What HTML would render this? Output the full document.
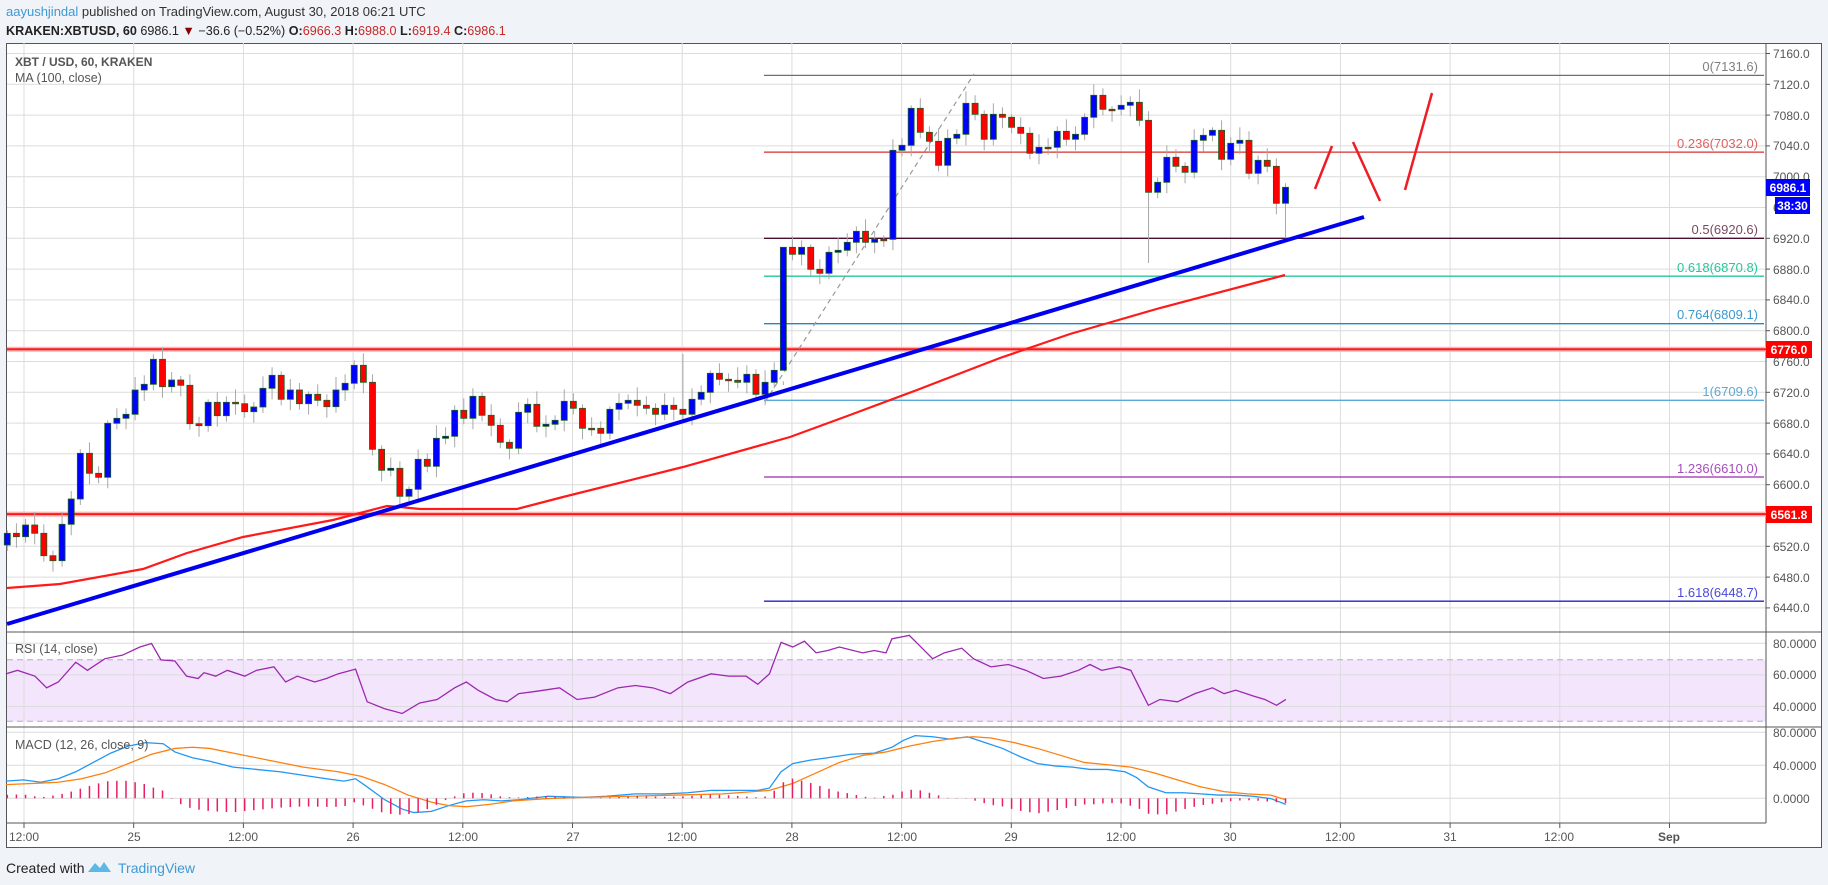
<!DOCTYPE html>
<html><head><meta charset="utf-8"><style>
html,body{margin:0;padding:0;background:#f0f3f7;}
body{width:1828px;height:885px;overflow:hidden;font-family:"Liberation Sans","DejaVu Sans",sans-serif;}
svg{position:absolute;left:0;top:0;}
</style></head><body>
<svg width="1828" height="885" xmlns="http://www.w3.org/2000/svg" font-family="Liberation Sans, DejaVu Sans, sans-serif">
<rect x="0" y="0" width="1828" height="885" fill="#f0f3f7"/>
<text x="6" y="16" font-size="13" fill="#333"><tspan fill="#3d9ad6">aayushjindal</tspan> published on TradingView.com, August 30, 2018 06:21 UTC</text>
<text x="6" y="35" font-size="12.6" fill="#222"><tspan font-weight="bold">KRAKEN:XBTUSD, 60</tspan> 6986.1 <tspan fill="#8b0000">▼</tspan> −36.6 (−0.52%) <tspan font-weight="bold">O:</tspan><tspan fill="#c62828">6966.3</tspan> <tspan font-weight="bold">H:</tspan><tspan fill="#c62828">6988.0</tspan> <tspan font-weight="bold">L:</tspan><tspan fill="#c62828">6919.4</tspan> <tspan font-weight="bold">C:</tspan><tspan fill="#c62828">6986.1</tspan></text>
<rect x="6.5" y="43.5" width="1815" height="804" fill="#fff" stroke="#555" stroke-width="1"/>
<rect x="7" y="659.7" width="1759" height="61.6" fill="#f3e5fc"/>
<g id="grid" stroke="#dcdcdc" stroke-width="1"></g>
<line x1="7" y1="659.7" x2="1766" y2="659.7" stroke="#b9a9c4" stroke-dasharray="6,4"/>
<line x1="7" y1="721.3" x2="1766" y2="721.3" stroke="#b9a9c4" stroke-dasharray="6,4"/>
<line x1="7" y1="632" x2="1822" y2="632" stroke="#555"/>
<line x1="7" y1="727" x2="1822" y2="727" stroke="#555"/>
<line x1="7" y1="823" x2="1766" y2="823" stroke="#555"/>
<line x1="1766" y1="43" x2="1766" y2="823" stroke="#555"/>
<line x1="7" y1="349.2" x2="1766" y2="349.2" stroke="#ffb3b3" stroke-width="5"/>
<line x1="7" y1="349.2" x2="1766" y2="349.2" stroke="#ff1a1a" stroke-width="2"/>
<line x1="7" y1="514.1" x2="1766" y2="514.1" stroke="#ffb3b3" stroke-width="5"/>
<line x1="7" y1="514.1" x2="1766" y2="514.1" stroke="#ff1a1a" stroke-width="2"/>
<g stroke-width="1.3">
<line x1="764" y1="75.4" x2="1764" y2="75.4" stroke="#707070"/>
<line x1="764" y1="152.1" x2="1764" y2="152.1" stroke="#d32f2f"/>
<line x1="764" y1="238.3" x2="1764" y2="238.3" stroke="#4a0e2e"/>
<line x1="764" y1="276.2" x2="1764" y2="276.2" stroke="#26c69a"/>
<line x1="764" y1="323.7" x2="1764" y2="323.7" stroke="#1e88c8"/>
<line x1="764" y1="400.3" x2="1764" y2="400.3" stroke="#5aa9d6"/>
<line x1="764" y1="477" x2="1764" y2="477" stroke="#9c27b0"/>
<line x1="764" y1="601.2" x2="1764" y2="601.2" stroke="#2020d0"/>
</g>
<g font-family="Liberation Sans, DejaVu Sans, sans-serif" font-size="13" text-anchor="end">
<text x="1758" y="71" fill="#808080">0(7131.6)</text>
<text x="1758" y="148" fill="#e06060">0.236(7032.0)</text>
<text x="1758" y="234" fill="#7a4a63">0.5(6920.6)</text>
<text x="1758" y="272" fill="#26c69a">0.618(6870.8)</text>
<text x="1758" y="319" fill="#3a98d0">0.764(6809.1)</text>
<text x="1758" y="396" fill="#5aa9d6">1(6709.6)</text>
<text x="1758" y="473" fill="#a64dbd">1.236(6610.0)</text>
<text x="1758" y="597" fill="#4a4ad8">1.618(6448.7)</text>
</g>
<line x1="765" y1="402" x2="974" y2="74" stroke="#999" stroke-width="1.2" stroke-dasharray="5,4"/>
<polyline fill="none" stroke="#ff1a1a" stroke-width="2.2" points="7,588 60,584 143,569 187,553 243,537 333,520 387,506 400,507 420,509 517,509 563,497 683,467 790,437 850,415 917,390 1000,358 1070,334 1160,308 1285,275"/>
<g id="candles"></g>
<line x1="7" y1="624" x2="1364" y2="217" stroke="#0000ee" stroke-width="4"/>
<g stroke="#ee1c25" stroke-width="2.5" fill="none">
<line x1="1315" y1="189" x2="1332" y2="146"/>
<line x1="1353" y1="142" x2="1380" y2="201"/>
<line x1="1405" y1="190" x2="1432" y2="93"/>
</g>
<g transform="scale(1.1658)" fill="none" stroke-width="1.1">
<polyline stroke="#9c27b0" points="5,578 15,575 30,580 40,590 50,585 65,568 75,575 90,565 105,562 120,555 130,552 138,566 150,567 160,580 170,582 175,577 185,580 195,575 210,580 220,575 235,572 245,585 255,580 270,585 280,582 290,578 305,574 315,602 330,608 345,612 360,603 375,600 390,590 400,585 410,592 425,600 435,602 445,595 460,593 480,590 495,600 510,598 530,590 545,588 560,590 575,595 590,585 610,578 625,580 640,580 650,587 660,578 670,551 680,555 690,550 700,560 710,558 720,555 740,560 750,558 760,560 765,548 780,545 790,555 800,565 810,560 825,556 835,565 850,572 865,570 880,575 895,582 910,580 925,575 935,570 945,575 960,572 970,575 985,605 995,600 1010,602 1025,595 1040,590 1050,595 1060,592 1075,597 1085,600 1095,605 1103,600"/>
<polyline id="mb" stroke="#2196f3" points="5,670 20,669 35,671 50,668 65,662 80,654 95,646 110,640 125,637 140,638 150,645 165,650 180,653 200,658 220,660 240,662 260,665 280,668 295,670 305,668 315,675 330,686 345,694 355,697 370,696 385,691 400,687 415,686 430,687 445,686 470,683 500,684 520,683 545,681 570,681 590,680 610,678 630,678 650,678 660,676 670,662 680,655 695,652 710,650 730,647 750,646 765,641 775,635 785,631 800,632 815,634 830,632 845,637 860,642 875,649 890,655 905,657 920,658 935,660 950,660 965,662 975,667 985,675 1000,680 1015,680 1030,681 1045,682 1060,682 1075,683 1090,685 1103,690"/>
<polyline id="ms" stroke="#ff7f0e" points="5,673 30,672 50,671 70,668 90,663 110,655 130,647 150,642 165,641 180,642 200,646 230,652 260,658 290,662 310,666 330,673 350,682 370,688 385,691 400,692 420,690 440,687 470,685 500,684 540,683 580,682 620,681 660,678 680,672 700,663 720,654 740,648 760,645 780,640 800,636 820,633 835,632 850,633 870,637 890,642 910,648 930,654 950,656 970,658 990,663 1010,669 1030,675 1050,679 1070,681 1090,682 1103,686"/>
</g>
<g id="hist"></g>
<g font-size="12" fill="#555">
<text x="1773" y="58">7160.0</text><text x="1773" y="89">7120.0</text><text x="1773" y="120">7080.0</text><text x="1773" y="150">7040.0</text><text x="1773" y="181">7000.0</text><text x="1773" y="212">6960.0</text><text x="1773" y="243">6920.0</text><text x="1773" y="274">6880.0</text><text x="1773" y="304">6840.0</text><text x="1773" y="335">6800.0</text><text x="1773" y="366">6760.0</text><text x="1773" y="397">6720.0</text><text x="1773" y="428">6680.0</text><text x="1773" y="458">6640.0</text><text x="1773" y="489">6600.0</text><text x="1773" y="520">6560.0</text><text x="1773" y="551">6520.0</text><text x="1773" y="582">6480.0</text><text x="1773" y="612">6440.0</text>
<text x="1773" y="648">80.0000</text><text x="1773" y="679">60.0000</text><text x="1773" y="711">40.0000</text>
<text x="1773" y="737">80.0000</text><text x="1773" y="770">40.0000</text><text x="1773" y="803">0.0000</text>
</g>
<g stroke="#555"><line x1="1766" y1="53.5" x2="1770" y2="53.5"/><line x1="1766" y1="84.3" x2="1770" y2="84.3"/><line x1="1766" y1="115.1" x2="1770" y2="115.1"/><line x1="1766" y1="145.9" x2="1770" y2="145.9"/><line x1="1766" y1="238.3" x2="1770" y2="238.3"/><line x1="1766" y1="269.1" x2="1770" y2="269.1"/><line x1="1766" y1="299.9" x2="1770" y2="299.9"/><line x1="1766" y1="330.7" x2="1770" y2="330.7"/><line x1="1766" y1="392.3" x2="1770" y2="392.3"/><line x1="1766" y1="423.1" x2="1770" y2="423.1"/><line x1="1766" y1="453.9" x2="1770" y2="453.9"/><line x1="1766" y1="484.7" x2="1770" y2="484.7"/><line x1="1766" y1="546.3" x2="1770" y2="546.3"/><line x1="1766" y1="577.1" x2="1770" y2="577.1"/><line x1="1766" y1="607.9" x2="1770" y2="607.9"/></g>
<rect x="1766" y="179" width="44" height="17" fill="#0000ff"/><text x="1788" y="192" font-size="12" font-weight="bold" fill="#fff" text-anchor="middle">6986.1</text>
<rect x="1775" y="197" width="35" height="17" fill="#0000ff"/><text x="1792.5" y="210" font-size="12" font-weight="bold" fill="#fff" text-anchor="middle">38:30</text>
<rect x="1766" y="341" width="46" height="17" fill="#ff0000"/><text x="1789" y="354" font-size="12" font-weight="bold" fill="#fff" text-anchor="middle">6776.0</text>
<rect x="1766" y="506" width="46" height="17" fill="#ff0000"/><text x="1789" y="519" font-size="12" font-weight="bold" fill="#fff" text-anchor="middle">6561.8</text>
<text x="15" y="66" font-size="12" font-weight="bold" fill="#555">XBT / USD, 60, KRAKEN</text>
<text x="15" y="82" font-size="12.5" fill="#555">MA (100, close)</text>
<text x="15" y="653" font-size="12.5" fill="#555">RSI (14, close)</text>
<text x="15" y="749" font-size="12.5" fill="#555">MACD (12, 26, close, 9)</text>
<g font-size="12" fill="#555" text-anchor="middle">
<text x="24" y="841">12:00</text><text x="134" y="841">25</text><text x="243" y="841">12:00</text><text x="353" y="841">26</text><text x="463" y="841">12:00</text><text x="573" y="841">27</text><text x="682" y="841">12:00</text><text x="792" y="841">28</text><text x="902" y="841">12:00</text><text x="1011" y="841">29</text><text x="1121" y="841">12:00</text><text x="1230" y="841">30</text><text x="1340" y="841">12:00</text><text x="1450" y="841">31</text><text x="1559" y="841">12:00</text><text x="1669" y="841" font-weight="bold">Sep</text>
</g>
<text x="6" y="873" font-size="14" fill="#222">Created with</text>
<path d="M88 872 L95 863 L100 868 L104 862 L111 872 Z" fill="#5cb8e6"/>
<text x="118" y="873" font-size="14" fill="#3d9ad6">TradingView</text>
</svg>
<script>
(function(){
var g='';
for(var p=0;p<19;p++){var y=53.5+p*30.8;g+='<line x1="7" y1="'+y+'" x2="1766" y2="'+y+'"/>';}
[643.3,674.9,706.5,732.3,765.3,798.3].forEach(function(y){g+='<line x1="7" y1="'+y+'" x2="1766" y2="'+y+'"/>';});
for(var k=0;k<16;k++){var x=24+k*109.7;g+='<line x1="'+x+'" y1="43" x2="'+x+'" y2="823"/><line x1="'+x+'" y1="823" x2="'+x+'" y2="828" stroke="#555"/>';}
document.getElementById('grid').innerHTML=g;
var C=[533.3,536.7,525,533.3,555.7,560.7,524.3,499,453.3,473.3,477.3,423.3,418.3,414.3,390,384.3,359.3,386.7,380,385.3,423.7,425.7,402.3,415.7,402.3,403.7,411.7,407,388.3,375.3,399.3,390,403.7,394.3,400.3,406.7,390,383.3,365.3,382.3,449.3,470.3,468.3,496.3,489.3,459.3,
466.3,438.3,436.3,410.3,418.3,396.3,415.3,425.3,442.3,448.3,412.3,404.3,426.3,424.3,420.3,401.3,408.3,428.3,428.3,433.3,409.3,403.3,400.3,405.3,408.3,414.3,405.3,409.3,414.3,399.3,392.3,373.3,379.3,380.3,382.3,374.3,394.3,382.3,370.3,
247.3,254.3,247.3,269.3,273.3,252.3,250.3,242.3,231.3,242.3,239.3,239.3,150.3,145.3,108.3,132.3,141.3,165.3,138.3,134.3,103.3,114.3,139.3,114.3,117.3,127.3,133.3,153.3,147.3,147.3,131.3,139.3,
134.3,117.3,95.3,109.3,109.3,105.3,102.3,120.3,192.3,182.3,157.3,166.3,172.3,140.3,135.3,130.3,159.3,143.3,140.3,173.3,160.3,166.3,203.3,187.3];
var s='',prev=545;
for(var i=0;i<C.length;i++){
 var x=7.3+i*9.13,o=prev,c=C[i];prev=c;
 var t=Math.min(o,c),b=Math.max(o,c);if(b-t<1.5){b=t+1.5;}
 var w1=3+((i*7)%11),w2=3+((i*5+3)%10);
 var ht=t-w1,lb=b+w2;
 if(i==125)lb=263; if(i==140)lb=238.3; if(i==74)ht=354; if(i==85)ht=385;
 s+='<line x1="'+x+'" y1="'+ht+'" x2="'+x+'" y2="'+lb+'" stroke="#a8a8a8" stroke-width="1"/>';
 s+='<rect x="'+(x-3)+'" y="'+t+'" width="6" height="'+(b-t)+'" fill="'+(c<o?'#0000ff':'#ff0000')+'" stroke="#1b5e20" stroke-width="0.8"/>';
}
document.getElementById('candles').innerHTML=s;
function pts(id){return document.getElementById(id).getAttribute('points').trim().split(/\s+/).map(function(q){var a=q.split(',');return [a[0]*1.1658,a[1]*1.1658];});}
function interp(P,x){for(var j=1;j<P.length;j++){if(P[j][0]>=x){var f=(x-P[j-1][0])/(P[j][0]-P[j-1][0]);return P[j-1][1]+f*(P[j][1]-P[j-1][1]);}}return P[P.length-1][1];}
var B=pts('mb'),S=pts('ms'),h='';
for(var i=0;i<141;i+=1){var x=7.3+i*9.13;var d=interp(S,x)-interp(B,x);h+='<line x1="'+x+'" y1="798.3" x2="'+x+'" y2="'+(798.3-d)+'" stroke="#e91e63" stroke-width="1.5"/>';}
document.getElementById('hist').innerHTML=h;
})();
</script>
</body></html>
